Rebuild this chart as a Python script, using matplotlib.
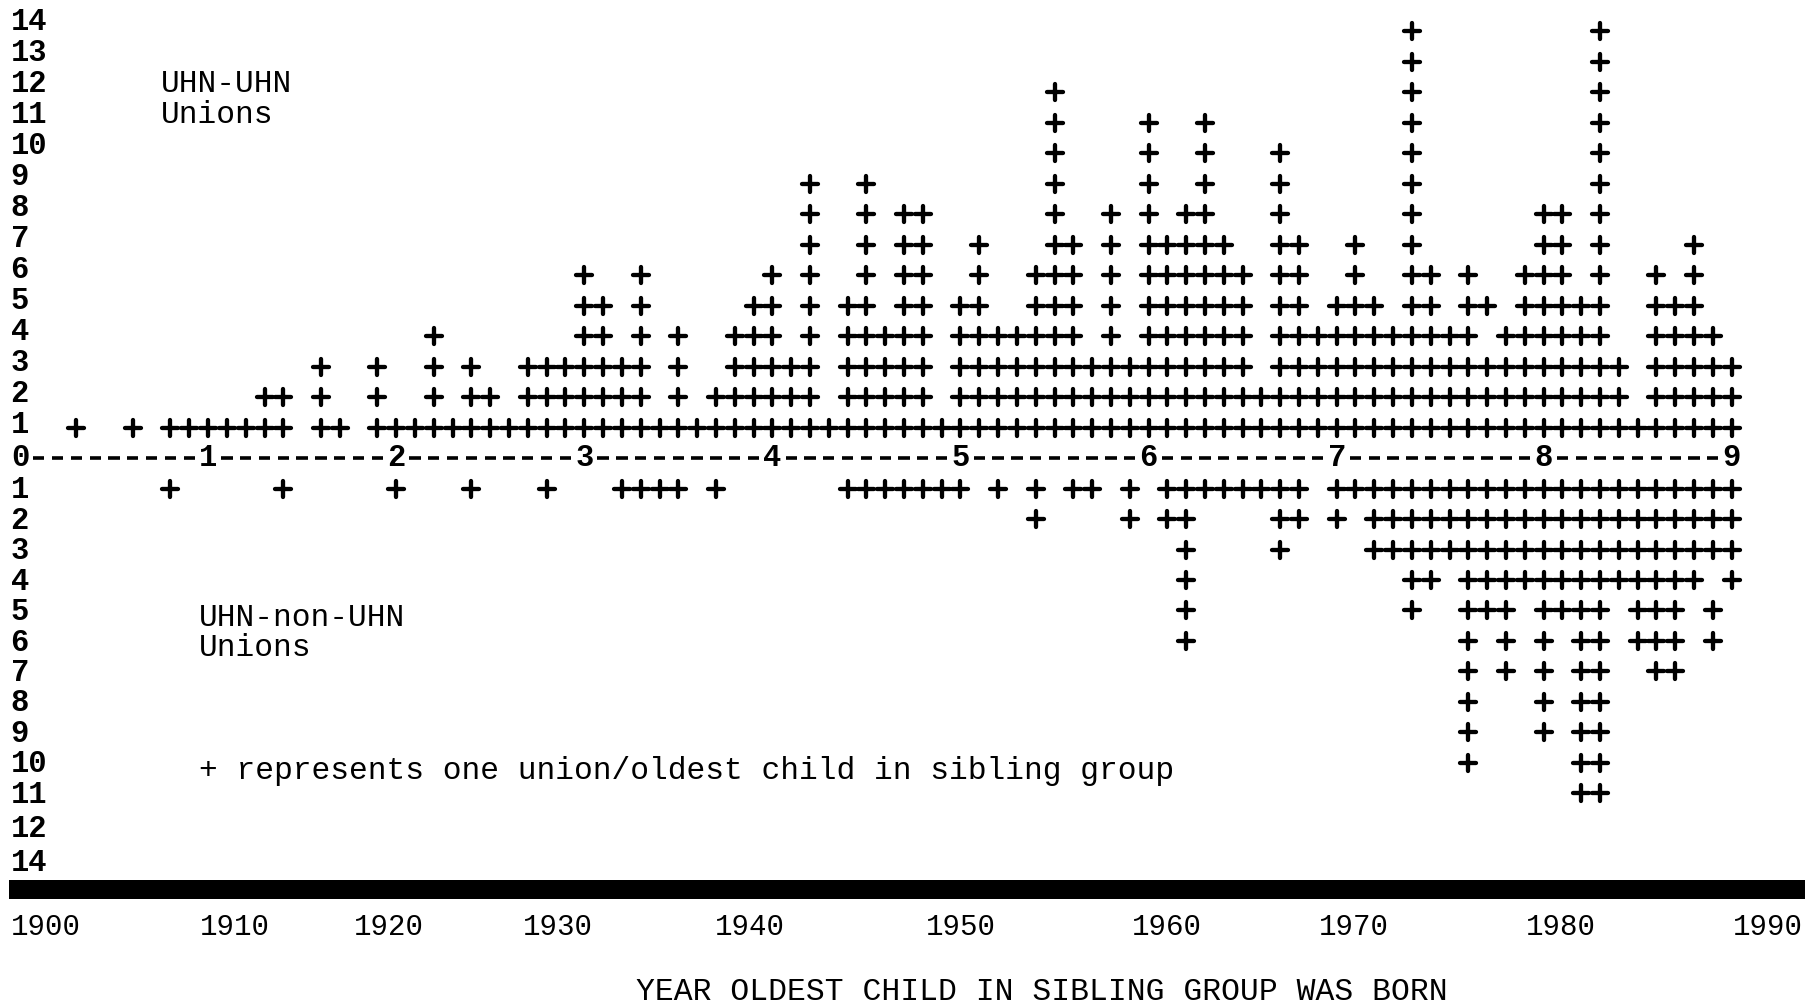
import matplotlib
matplotlib.use("Agg")
import matplotlib.pyplot as plt
from matplotlib.markers import MarkerStyle

plt.rcParams['font.family'] = ['Liberation Mono', 'DejaVu Sans Mono']

# each "+" is one union; x = typed column on the decade scale, y = row
# (the typed scale has one extra dash between 7 and 8)
upper_rows = {
    14: "74 84",
    13: "74 84",
    12: "55 74 84",
    11: "55 60 63 74 84",
    10: "55 60 63 67 74 84",
    9: "42 45 55 60 63 67 74 84",
    8: "42 45 47-48 55 58 60 62-63 67 74 81-82 84",
    7: "42 45 47-48 51 55-56 58 60-64 67-68 71 74 81-82 84 89",
    6: "30 33 40 42 45 47-48 51 54-56 58 60-65 67-68 71 74-75 77 80-82 84 87 89",
    5: "30-31 33 39-40 42 44-45 47-48 50-51 54-56 58 60-65 67-68 70-72 74-75 77-78 80-84 87-89",
    4: "22 30-31 33 35 38-40 42 44-48 50-56 58 60-65 67-77 79-84 87-90",
    3: "16 19 22 24 27-33 35 38-42 44-48 50-65 67-85 87-91",
    2: "13-14 16 19 22 24-25 27-33 35 37-42 44-48 50-85 87-91",
    1: "3 6 8-14 16-17 19-91",
}
lower_rows = {
    1: "8 14 20 24 28 32-35 37 44-50 52 54 56-57 59 61-68 70-91",
    2: "54 59 61-62 67-68 70 72-91",
    3: "62 67 72-91",
    4: "62 74-75 77-89 91",
    5: "62 74 77-79 81-84 86-88 90",
    6: "62 77 79 81 83-84 86-88 90",
    7: "77 79 81 83-84 87-88",
    8: "77 81 83-84",
    9: "77 81 83-84",
    10: "77 83-84",
    11: "83-84",
}

upper_labels = ["1", "2", "3", "4", "5", "6", "7", "8", "9", "10", "11", "12", "13", "14"]
lower_labels = ["1", "2", "3", "4", "5", "6", "7", "8", "9", "10", "11", "12", "14"]
decade_marks = ["0", "1", "2", "3", "4", "5", "6", "7", "8", "9"]
decade_cols = [0, 10, 20, 30, 40, 50, 60, 70, 81, 91]
year_labels = ["1900", "1910", "1920", "1930", "1940", "1950", "1960", "1970", "1980", "1990"]
year_label_cols = [1.4, 11.4, 19.6, 28.6, 38.8, 50.0, 61.0, 70.9, 81.9, 92.9]


def expand(spec):
    out = []
    for part in spec.split():
        if "-" in part:
            a, b = part.split("-")
            out.extend(range(int(a), int(b) + 1))
        else:
            out.append(int(part))
    return out


fig = plt.figure(figsize=(18.05, 10.06), dpi=100)
ax = fig.add_axes([0, 0, 1, 1])
ax.set_xlim(-1.063, 94.9)
ax.set_ylim(-17.97, 15.02)
ax.axis('off')

xs, ys = [], []
for row, spec in upper_rows.items():
    for c in expand(spec):
        xs.append(c)
        ys.append(row)
for row, spec in lower_rows.items():
    for c in expand(spec):
        xs.append(c)
        ys.append(-row)

plus = MarkerStyle('+', capstyle='round')
ax.plot(xs, ys, linestyle='none', marker=plus, ms=11.5, mew=3.1, color='black')

# row labels
for i, lab in enumerate(upper_labels):
    r = i + 1
    ax.text(-0.5, r * 1.016 + 0.07, lab, ha='left', va='center',
            fontsize=22, fontweight='bold')
for i, lab in enumerate(lower_labels):
    r = i + 1
    y = -r - 0.05 - 0.12 * max(0, r - 11)
    ax.text(-0.5, y, lab, ha='left', va='center',
            fontsize=22, fontweight='bold')

# dashed zero line with decade marks
for c in range(decade_cols[-1] + 1):
    if c in decade_cols:
        ax.text(c, 0, decade_marks[decade_cols.index(c)], ha='center', va='center',
                fontsize=22, fontweight='bold')
    else:
        ax.hlines(0, c - 0.3, c + 0.3, color='black', lw=2.6)

# annotations
ax.text(7.5, 12.26, "UHN-UHN", ha='left', va='center', fontsize=22.5)
ax.text(7.5, 11.25, "Unions", ha='left', va='center', fontsize=22.5)
ax.text(9.5, -5.25, "UHN-non-UHN", ha='left', va='center', fontsize=22.5)
ax.text(9.5, -6.23, "Unions", ha='left', va='center', fontsize=22.5)
ax.text(9.5, -10.25, "+ represents one union/oldest child in sibling group",
        ha='left', va='center', fontsize=22.5)

# heavy rule and year scale
ax.axhspan(-14.46, -13.84, xmin=0.005, xmax=1.0, color='black', lw=0)
for lab, c in zip(year_labels, year_label_cols):
    ax.text(c, -15.38, lab, ha='center', va='center', fontsize=21)
ax.text(54.3, -17.5, "YEAR OLDEST CHILD IN SIBLING GROUP WAS BORN",
        ha='center', va='center', fontsize=22.6)

plt.savefig("out.png", dpi=100)
